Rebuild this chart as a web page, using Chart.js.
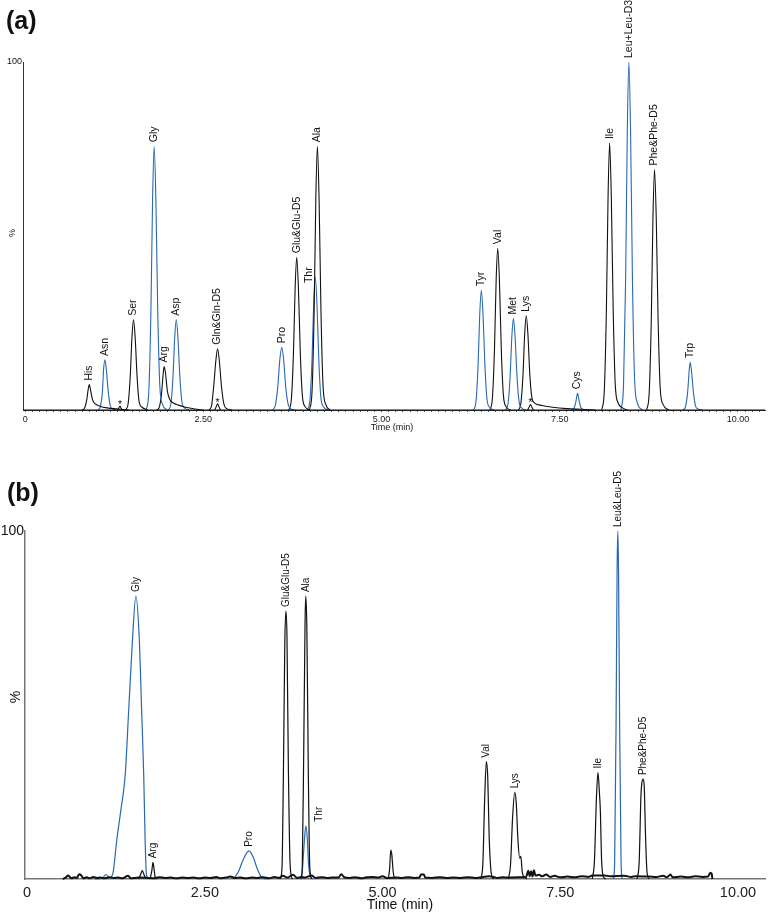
<!DOCTYPE html>
<html>
<head>
<meta charset="utf-8">
<script src="https://cdn.jsdelivr.net/npm/chart.js@4.4.1/dist/chart.umd.min.js"></script>
<style>
  html, body { margin: 0; padding: 0; background: #fff; }
  #wrap { position: relative; width: 768px; height: 915px; }
  canvas { position: absolute; left: 0; }
  #chartA { top: 0; }
  #chartB { top: 470px; }
</style>
</head>
<body>
<div id="wrap">
  <canvas id="chartA" width="768" height="440"></canvas>
  <canvas id="chartB" width="768" height="445"></canvas>
</div>
<script>
// eje de tiempo (min) y de intensidad relativa (%)
const tiempoMin = -0.03;
const tiempoMax = 10.38;
const marcasTiempo = [0, 2.5, 5, 7.5, 10];

const aHis = [[0.80,0],[0.835,0.6],[0.865,3],[0.885,6],[0.90,7.3],[0.92,5.5],[0.945,3],[0.98,1.8],[1.05,1.1],[1.15,0.6],[1.30,0.3],[1.45,0]];
const aAsn = [[1.02,0],[1.055,1],[1.085,5.5],[1.10,11.5],[1.12,14.4],[1.14,11.5],[1.165,5.5],[1.195,1.2],[1.23,0.3],[1.28,0]];
const aStar1 = [[1.29,0],[1.31,0.4],[1.33,1.1],[1.35,0.4],[1.37,0]];
const aSer = [[1.41,0],[1.445,1.8],[1.475,9.8],[1.498,20.7],[1.52,25.9],[1.544,20.7],[1.57,9.8],[1.60,2.3],[1.64,0.8],[1.72,0]];
const aGly = [[1.70,0],[1.735,5.3],[1.765,28.8],[1.788,60.6],[1.81,75.8],[1.834,60.6],[1.86,28.8],[1.89,6.8],[1.93,1.5],[1.99,0]];
const aArg = [[1.85,0],[1.885,1],[1.915,5],[1.935,10],[1.95,12.5],[1.97,10.5],[1.995,5.5],[2.03,3],[2.08,2],[2.15,1.4],[2.25,0.8],[2.38,0.3],[2.50,0]];
const aAsp = [[2.01,0],[2.045,1.8],[2.075,9.8],[2.098,20.7],[2.12,25.9],[2.144,20.7],[2.17,9.8],[2.20,2.3],[2.24,0.5],[2.30,0]];
const aGln = [[2.58,0],[2.615,1.2],[2.645,6.7],[2.675,14],[2.70,17.6],[2.725,14],[2.755,6.7],[2.79,1.6],[2.83,0.4],[2.90,0]];
const aStar2 = [[2.66,0],[2.68,0.9],[2.70,1.8],[2.72,0.9],[2.74,0]];
const aPro = [[3.47,0],[3.51,1.3],[3.545,6.8],[3.573,14.4],[3.60,18],[3.627,14.4],[3.655,6.8],[3.69,1.6],[3.73,0.3],[3.79,0]];
const aGlu = [[3.70,0],[3.735,3.1],[3.765,16.7],[3.788,35.1],[3.81,43.9],[3.834,35.1],[3.86,16.7],[3.89,4],[3.93,0.9],[3.99,0]];
const aThr = [[3.96,0],[3.995,2.7],[4.025,14.5],[4.048,30.6],[4.07,38.2],[4.094,30.6],[4.12,14.5],[4.15,3.4],[4.19,0.8],[4.25,0]];
const aAla = [[3.99,0],[4.025,5.3],[4.055,28.8],[4.078,60.6],[4.10,75.8],[4.124,60.6],[4.15,28.8],[4.18,6.8],[4.22,1.5],[4.28,0]];
const aTyr = [[6.29,0],[6.325,2.4],[6.355,13.1],[6.378,27.5],[6.40,34.4],[6.424,27.5],[6.45,13.1],[6.48,3.1],[6.52,0.7],[6.58,0]];
const aVal = [[6.52,0],[6.555,3.3],[6.585,17.7],[6.608,37.2],[6.63,46.5],[6.654,37.2],[6.68,17.7],[6.71,4.2],[6.75,0.9],[6.81,0]];
const aMet = [[6.74,0],[6.775,1.8],[6.805,10],[6.828,21],[6.85,26.3],[6.874,21],[6.90,10],[6.93,2.4],[6.97,0.5],[7.03,0]];
const aLys = [[6.92,0],[6.955,1.9],[6.985,10.3],[7.008,21.7],[7.03,27.1],[7.054,21.7],[7.08,10.3],[7.11,3.5],[7.15,2],[7.25,1.3],[7.40,0.8],[7.60,0.4],[7.80,0.2],[8.00,0]];
const aStar3 = [[7.05,0],[7.07,0.8],[7.09,1.6],[7.11,0.8],[7.13,0]];
const aCys = [[7.67,0],[7.70,0.5],[7.725,2.2],[7.75,4.8],[7.775,2.3],[7.80,0.6],[7.84,0.1],[7.88,0]];
const aIle = [[8.09,0],[8.125,5.4],[8.155,29],[8.178,61],[8.20,76.7],[8.224,61],[8.25,29],[8.28,7],[8.32,2],[8.38,0.6],[8.45,0]];
const aLeu = [[8.36,0],[8.395,7],[8.425,38],[8.448,80],[8.47,100],[8.494,80],[8.52,38],[8.55,9],[8.59,2],[8.66,0]];
const aPhe = [[8.72,0],[8.755,4.8],[8.785,26.3],[8.808,55.3],[8.83,69.1],[8.854,55.3],[8.88,26.3],[8.91,6.2],[8.95,1.6],[9.03,0]];
const aTrp = [[9.23,0],[9.265,1],[9.295,5.2],[9.315,11],[9.33,13.7],[9.35,11],[9.375,5.2],[9.405,1.2],[9.44,0.3],[9.50,0]];
const aBase = [[tiempoMin,0],[tiempoMax,0]];

// ---- (b) trazas [tiempo, %] ----
const bRuido = [[0.50,0],[0.54,0.4],[0.58,1.0],[0.62,0.2],[0.67,0.5],[0.70,0.3],[0.73,1.4],[0.76,1.1],[0.79,0.2],[0.84,0.5],[0.88,0.2],[0.93,0.6],[0.98,0.3],[1.03,0.4],[1.09,0.2],[1.16,0.5],[1.22,0.3],[1.28,0.4],[1.34,0.2],[1.42,0.9],[1.46,0.2],[1.52,0.3],[1.58,0.4],[1.70,0.3],[1.78,0.2],[1.86,0.5],[1.94,0.3],[2.02,0.4],[2.10,0.2],[2.18,0.4],[2.26,0.3],[2.34,0.4],[2.42,0.2],[2.50,0.4],[2.58,0.3],[2.66,0.6],[2.72,0.2],[2.80,0.4],[2.86,0.7],[2.92,0.3],[3.00,0.4],[3.08,0.2],[3.16,0.4],[3.24,0.3],[3.32,0.5],[3.40,0.2],[3.48,0.6],[3.54,0.3],[3.60,0.9],[3.66,0.4],[3.74,1.2],[3.80,0.3],[3.86,0.6],[3.90,0.4],[4.00,1.0],[4.06,0.3],[4.14,0.5],[4.22,0.3],[4.30,0.4],[4.38,0.4],[4.42,1.4],[4.46,0.5],[4.54,0.3],[4.62,0.5],[4.70,0.2],[4.78,0.5],[4.86,0.6],[4.94,0.4],[5.00,0.8],[5.06,0.3],[5.20,0.4],[5.28,0.3],[5.36,0.5],[5.44,0.3],[5.52,0.4],[5.54,1.3],[5.58,1.3],[5.60,0.4],[5.70,0.3],[5.80,0.5],[5.90,0.3],[6.00,0.4],[6.10,0.3],[6.20,0.5],[6.30,0.3],[6.36,0.4],[6.50,0.8],[6.56,0.6],[6.62,0.3],[6.70,0.5],[6.76,0.4],[6.90,0.5],[7.02,0.6],[7.05,2.4],[7.07,0.8],[7.09,2.2],[7.11,0.7],[7.13,2.5],[7.15,1.0],[7.20,1.2],[7.25,0.8],[7.30,1.3],[7.36,0.6],[7.42,0.9],[7.50,0.5],[7.60,0.7],[7.70,0.5],[7.80,0.8],[7.90,0.6],[7.95,1.0],[8.12,1.0],[8.20,0.8],[8.40,0.9],[8.50,0.6],[8.56,0.8],[8.75,0.7],[8.85,0.6],[8.95,0.9],[9.00,0.5],[9.05,1.3],[9.08,0.5],[9.20,0.7],[9.30,0.5],[9.40,0.8],[9.50,0.6],[9.58,0.7],[9.61,1.8],[9.63,1.5],[9.64,0]];
const bGly = [[0.95,0],[1.06,0.3],[1.11,1.3],[1.16,0.3],[1.21,2],[1.26,11],[1.32,20],[1.38,30],[1.43,49],[1.48,68],[1.53,81.3],[1.58,68],[1.61,49],[1.64,30],[1.66,11],[1.68,1],[1.72,0]];
const bPreArg = [[1.57,0],[1.60,1.5],[1.62,2.4],[1.645,1.2],[1.67,0]];
const bArg = [[1.73,0],[1.755,2.5],[1.77,4.8],[1.785,3],[1.80,0.6],[1.83,0]];
const bPro = [[2.90,0],[2.97,2],[3.04,5.6],[3.12,8.1],[3.18,6.3],[3.24,2.8],[3.30,0.5],[3.36,0]];
const bGlu = [[3.56,0],[3.585,3],[3.605,30],[3.625,68],[3.64,77],[3.655,70],[3.675,32],[3.70,4],[3.73,0]];
const bThr = [[3.84,0],[3.87,2],[3.90,11],[3.92,15.3],[3.94,12],[3.96,4],[3.99,0.5],[4.02,0]];
const bAla = [[3.85,0],[3.87,3],[3.89,35],[3.91,74],[3.92,81.3],[3.935,72],[3.955,32],[3.975,4],[4.00,0]];
const bPico512 = [[5.08,0],[5.10,3],[5.115,8.3],[5.13,7],[5.15,2],[5.17,0]];
const bVal = [[6.38,0],[6.41,4],[6.435,22],[6.46,33.7],[6.48,29],[6.50,12],[6.53,1.5],[6.56,0]];
const bLys = [[6.77,0],[6.80,4],[6.83,18],[6.86,24.9],[6.88,22],[6.905,11],[6.93,6],[6.945,6.5],[6.965,2],[7.00,0.5],[7.03,0]];
const bIle = [[7.95,0],[7.98,5],[8.01,24],[8.03,30.6],[8.05,25],[8.065,19],[8.08,6],[8.11,0.5],[8.14,0]];
const bLeu = [[8.25,0],[8.265,5],[8.285,45],[8.30,90],[8.31,100],[8.32,88],[8.335,45],[8.355,5],[8.37,0]];
const bPhe = [[8.58,0],[8.61,5],[8.635,24],[8.65,28],[8.665,28.7],[8.68,27],[8.70,12],[8.72,2],[8.75,0]];

// [traza, etiqueta, canal azul?]
const trazasA = [
  [aBase, null, false], [aHis, "His", false], [aAsn, "Asn", true], [aStar1, "*", false],
  [aSer, "Ser", false], [aGly, "Gly", true], [aArg, "Arg", false], [aAsp, "Asp", true],
  [aGln, "Gln&Gln-D5", false], [aStar2, "*", false], [aPro, "Pro", true], [aGlu, "Glu&Glu-D5", false],
  [aAla, "Ala", false], [aThr, "Thr", true], [aTyr, "Tyr", true], [aVal, "Val", false],
  [aMet, "Met", true], [aLys, "Lys", false], [aStar3, "*", false], [aCys, "Cys", true],
  [aIle, "Ile", false], [aLeu, "Leu+Leu-D3", true], [aPhe, "Phe&Phe-D5", false], [aTrp, "Trp", true]
];
const trazasB = [
  [bRuido, null, false], [bPreArg, null, false], [bArg, "Arg", false], [bGly, "Gly", true],
  [bPro, "Pro", true], [bGlu, "Glu&Glu-D5", false], [bAla, "Ala", false], [bThr, "Thr", true],
  [bPico512, null, false], [bVal, "Val", false], [bLys, "Lys", false], [bIle, "Ile", false],
  [bLeu, "Leu&Leu-D5", true], [bPhe, "Phe&Phe-D5", false]
];

const AZUL = "#2a68b0";
const NEGRO = "#111";
const FUENTE = '"Liberation Sans", Arial, sans-serif';

const textosPanel = {
  id: "textosPanel",
  afterDatasetsDraw(chart, args, o) {
    const { ctx, chartArea: ca, scales: { x, y } } = chart;
    ctx.save();
    ctx.fillStyle = NEGRO;
    ctx.font = `${o.tamEtiqueta}px ${FUENTE}`;
    chart.data.datasets.forEach(ds => {
      if (!ds.pico) return;
      const top = ds.data.reduce((a, b) => (b.y > a.y ? b : a));
      const [dx, dy] = (o.desplaza && o.desplaza[ds.pico]) || [0, 0];
      const px = x.getPixelForValue(top.x) + dx;
      const py = y.getPixelForValue(top.y) - 4 + dy;
      if (ds.pico === "*") {
        ctx.textAlign = "center";
        ctx.textBaseline = "alphabetic";
        ctx.fillText("*", px, py + 6);
        return;
      }
      ctx.save();
      ctx.translate(px, py);
      ctx.rotate(-Math.PI / 2);
      ctx.textAlign = "left";
      ctx.textBaseline = "middle";
      ctx.fillText(ds.pico, 0, 0);
      ctx.restore();
    });

    // letra del panel
    ctx.font = `bold ${o.tamLetra}px ${FUENTE}`;
    ctx.textAlign = "left";
    ctx.textBaseline = "middle";
    ctx.fillText(o.letra, o.letraX, o.letraY);

    // 100 y %
    ctx.font = `${o.tamEje}px ${FUENTE}`;
    ctx.textAlign = "right";
    ctx.fillText("100", ca.left - 1, ca.top);
    ctx.save();
    ctx.translate(o.porX, (ca.top + ca.bottom) / 2 + o.porDy);
    ctx.rotate(-Math.PI / 2);
    ctx.textAlign = "center";
    ctx.fillText("%", 0, 0);
    ctx.restore();

    // titulo del eje x
    ctx.font = `${o.tamTitulo}px ${FUENTE}`;
    ctx.textAlign = "center";
    ctx.fillText("Time (min)", o.tituloX, o.tituloY);
    ctx.restore();
  }
};

function crearPanel(id, trazas, op) {
  const datasets = trazas.map(([pts, pico, azul]) => ({
    pico,
    data: pts.map(([t, v]) => ({ x: t, y: v })),
    borderColor: azul ? AZUL : NEGRO,
    borderWidth: op.grosor,
    pointRadius: 0,
    fill: false,
    clip: false,
    cubicInterpolationMode: "monotone"
  }));
  datasets[0].borderWidth = op.grosorBase;

  return new Chart(document.getElementById(id), {
    type: "line",
    data: { datasets },
    options: {
      responsive: false,
      animation: false,
      devicePixelRatio: 1,
      layout: { padding: { left: op.izq, right: 3, top: op.arriba, bottom: 0 } },
      plugins: {
        legend: { display: false },
        tooltip: { enabled: false },
        textosPanel: op
      },
      scales: {
        x: {
          type: "linear",
          min: tiempoMin,
          max: tiempoMax,
          afterFit: s => { s.height = op.altoX; },
          border: { display: true, color: op.colorEje, width: op.grosorEje },
          grid: { display: true, drawOnChartArea: false, drawTicks: op.marcas, tickLength: 2, color: "#555" },
          ticks: {
            stepSize: op.paso,
            includeBounds: false,
            autoSkip: false,
            maxRotation: 0,
            padding: op.padTick,
            color: "#222",
            font: { family: FUENTE, size: op.tamTick },
            callback: v => {
              const m = marcasTiempo.find(t => Math.abs(t - v) < 1e-6);
              if (m === undefined) return "";
              return m === 0 ? "0" : m.toFixed(2);
            }
          }
        },
        y: {
          min: 0,
          max: 100,
          afterFit: s => { s.width = 0; },
          border: { display: true, color: op.colorEje, width: op.grosorEje },
          grid: { display: false },
          ticks: { display: false }
        }
      }
    },
    plugins: [textosPanel]
  });
}

crearPanel("chartA", trazasA, {
  izq: 23, arriba: 62, altoX: 30, paso: 0.1, marcas: true, padTick: 2,
  tamTick: 9, tamEtiqueta: 10.5, tamLetra: 25, tamEje: 9, tamTitulo: 9,
  grosor: 1.1, grosorBase: 1.2, colorEje: "#333", grosorEje: 1,
  letra: "(a)", letraX: 6, letraY: 22, porX: 13, porDy: -3, tituloX: 392, tituloY: 428,
  desplaza: { Thr: [-6, 10] }
});

crearPanel("chartB", trazasB, {
  izq: 25, arriba: 61, altoX: 36, paso: 2.5, marcas: false, padTick: 5,
  tamTick: 14.5, tamEtiqueta: 10, tamLetra: 25, tamEje: 14, tamTitulo: 14,
  grosor: 1.2, grosorBase: 2, colorEje: "#777", grosorEje: 1.5,
  letra: "(b)", letraX: 7, letraY: 24, porX: 16, porDy: -8, tituloX: 400, tituloY: 435,
  desplaza: { Thr: [13, 0] }
});
</script>
</body>
</html>
